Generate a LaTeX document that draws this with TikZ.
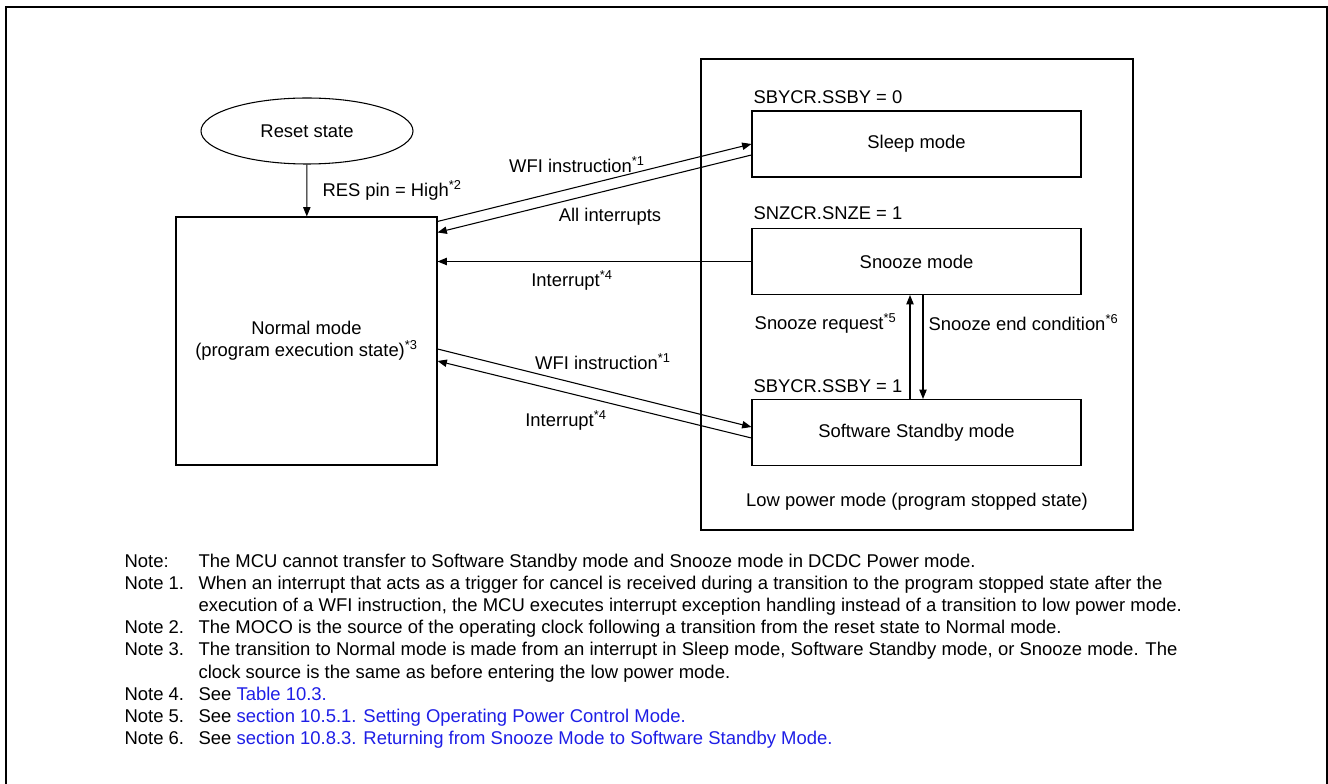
\documentclass[tikz,border=0pt]{standalone}
\usepackage{fontspec}
\setmainfont{Liberation Sans}
\usetikzlibrary{arrows.meta,calc,positioning,shapes.geometric}
\definecolor{linkblue}{RGB}{30,30,230}

\begin{document}
\begin{tikzpicture}[x=0.75pt,y=-0.75pt,>={Triangle[length=7pt,width=5.5pt]},
			font=\fontsize{13.8}{16.5}\selectfont,
			line width=0.8pt,
			modebox/.style={draw,inner sep=0pt,minimum width=246.75pt,minimum height=49.5pt},
			lbl/.style={inner sep=0pt},
			note/.style={inner sep=0pt,anchor=west,font=\fontsize{13.85}{16.5}\selectfont}]
			\useasboundingbox (0,0) rectangle (1328,784);
			\draw[line width=1.5pt] (6,784) -- (6,7) -- (1327,7) -- (1327,784);
			% states
			\node[draw,ellipse,inner sep=0pt,minimum width=159pt,minimum height=49.5pt] (reset) at (307,131) {Reset state};
			\node[draw,inner sep=0pt,minimum width=195.75pt,minimum height=186pt,align=center] (normal) at (306.5,341)
				{Normal mode\\(program execution state)\textsuperscript{*3}};
			\node[draw,inner sep=0pt,minimum width=324pt,minimum height=353.25pt] (lowpower) at (917,294.5) {};
			\node[modebox] (sleep) at (916.5,144) {Sleep mode};
			\node[modebox] (snooze) at (916.5,261.5) {Snooze mode};
			\node[modebox] (standby) at (916.5,432.5) {Software Standby mode};
			% register labels
			\node[lbl,anchor=west] (ssby0) at (753,97) {SBYCR.SSBY = 0};
			\node[lbl,anchor=west] (snze1) at (753,213) {SNZCR.SNZE = 1};
			\node[lbl,anchor=west] (ssby1) at (753,386) {SBYCR.SSBY = 1};
			\node[lbl] (lowlbl) at (917,502) {Low power mode (program stopped state)};
			% transitions
			\draw[->] (reset) -- node[right=8pt] {RES pin = High\textsuperscript{*2}} (normal);
			\draw[->] ($(normal.north east)+(0,5)$) -- (sleep.west);
			\draw[->] ($(sleep.west)+(0,11)$) -- ($(normal.north east)+(0,16)$);
			\draw[->] (snooze.west) -- (snooze.west -| normal.east);
			\draw[->] ($(normal.east)+(0,8)$) -- ($(standby.west)+(0,-5.5)$);
			\draw[->] ($(standby.west)+(0,5.5)$) -- ($(normal.east)+(0,20)$);
			\draw[->] ($(standby.north)+(-6.5,0)$) -- ($(snooze.south)+(-6.5,0)$);
			\draw[->] ($(snooze.south)+(6.5,0)$) -- ($(standby.north)+(6.5,0)$);
			% transition labels
			\node[lbl] (wfi_a) at (577,165) {WFI instruction\textsuperscript{*1}};
			\node[lbl] (allint) at (610,217) {All interrupts};
			\node[lbl] (int_a) at (572,280) {Interrupt\textsuperscript{*4}};
			\node[lbl] (wfi_b) at (603,362) {WFI instruction\textsuperscript{*1}};
			\node[lbl] (int_b) at (566,420) {Interrupt\textsuperscript{*4}};
			\node[lbl,anchor=east] (snzreq) at (897,323) {Snooze request\textsuperscript{*5}};
			\node[lbl,anchor=west] (snzend) at (928,323) {Snooze end condition\textsuperscript{*6}};
			% notes
			\foreach \y/\tag/\txt [count=\i] in {
				563/{Note:}/{The MCU cannot transfer to Software Standby mode and Snooze mode in DCDC Power mode.},
				585/{Note 1.}/{When an interrupt that acts as a trigger for cancel is received during a transition to the program stopped state after the},
				607/{}/{execution of a WFI instruction, the MCU executes interrupt exception handling instead of a transition to low power mode.},
				629/{Note 2.}/{The MOCO is the source of the operating clock following a transition from the reset state to Normal mode.},
				651/{Note 3.}/{The transition to Normal mode is made from an interrupt in Sleep mode, Software Standby mode, or Snooze mode. The},
				674/{}/{clock source is the same as before entering the low power mode.},
				696/{Note 4.}/{See \textcolor{linkblue}{Table 10.3.}},
				718/{Note 5.}/{See \textcolor{linkblue}{section 10.5.1. Setting Operating Power Control Mode.}},
				740/{Note 6.}/{See \textcolor{linkblue}{section 10.8.3. Returning from Snooze Mode to Software Standby Mode.}}}
			{
				\node[note] (tag\i) at (124,\y) {\tag\strut};
				\node[note] (txt\i) at (198,\y) {\txt\strut};
			}
		\end{tikzpicture}
\end{document}
